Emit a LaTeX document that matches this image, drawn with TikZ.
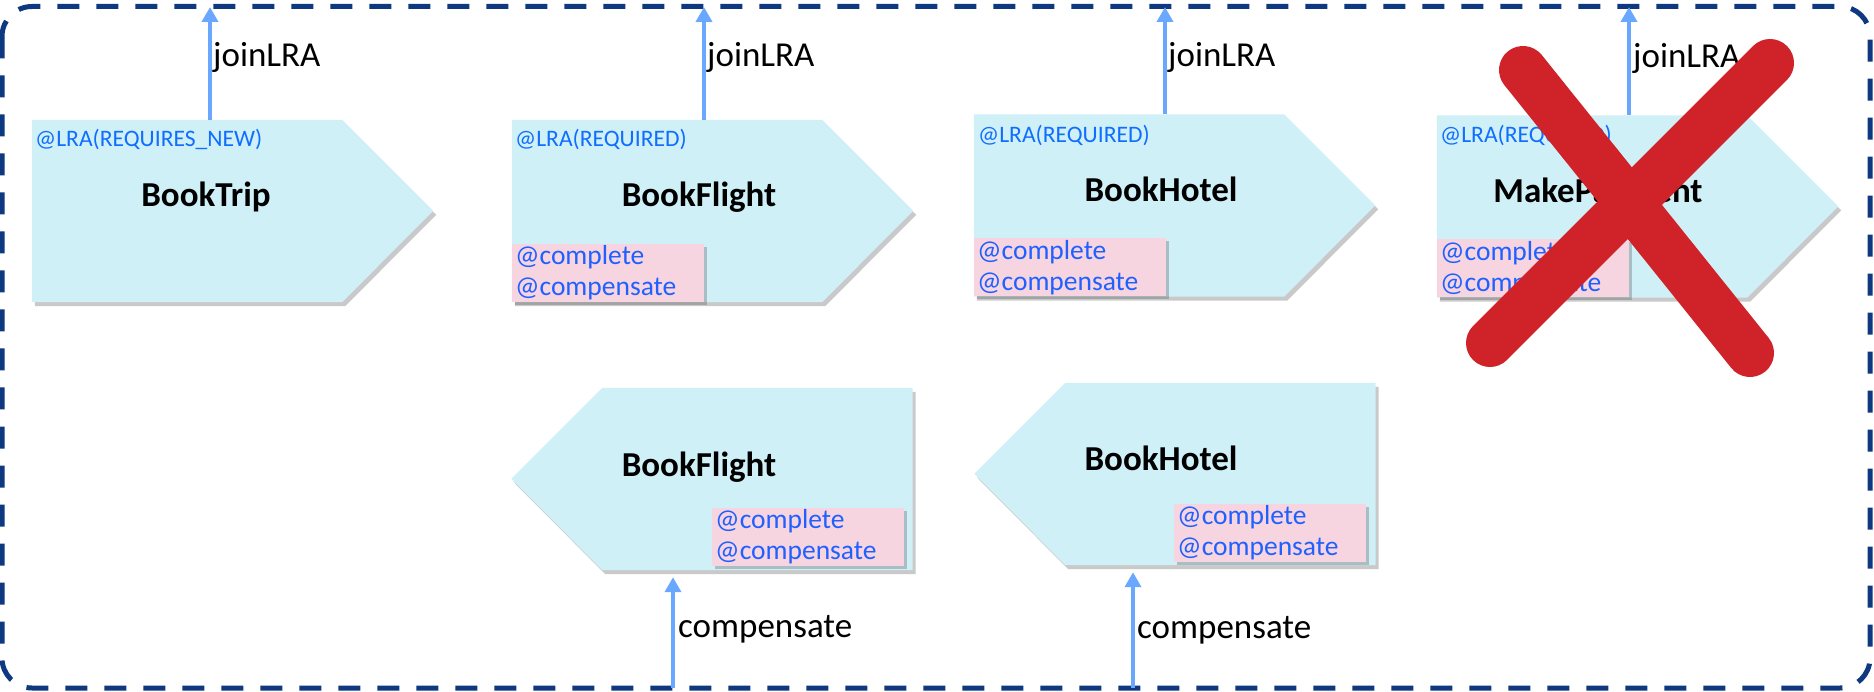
\documentclass[tikz,border=0pt]{standalone}
\usepackage{fontspec}
\setmainfont{Carlito}
\usetikzlibrary{shadows,arrows.meta}

\definecolor{cellcyan}{RGB}{208,240,248}
\definecolor{hookpink}{RGB}{246,213,224}
\definecolor{annblue}{RGB}{16,110,255}
\definecolor{hookblue}{RGB}{32,96,255}
\definecolor{flowblue}{RGB}{106,168,255}
\definecolor{crossred}{RGB}{208,34,41}
\definecolor{framenavy}{RGB}{14,56,128}

\tikzset{
  taskbody/.style={rectangle, minimum width=310pt, minimum height=182pt, inner sep=0pt},
  tasksig/.style={fill=cellcyan,
    drop shadow={shadow xshift=3pt, shadow yshift=-4pt, opacity=.3, fill=black!70}},
  taskname/.style={font=\fontsize{35}{40}\selectfont\bfseries, anchor=base, inner sep=0pt},
  lra/.style={font=\fontsize{23.6}{28}\selectfont, text=annblue, anchor=base west, inner sep=0pt},
  hooks/.style={fill=hookpink, font=\fontsize{27.5}{31}\selectfont, text=hookblue,
    anchor=south west, text width=186pt, align=left, inner xsep=3pt, inner ysep=0pt,
    minimum height=58pt,
    drop shadow={shadow xshift=3pt, shadow yshift=-3pt, opacity=.3, fill=black!70}},
  flow/.style={line width=4.5pt, flowblue, -{Triangle[width=16pt,length=15pt]}},
  flowlabel/.style={font=\fontsize{35}{40}\selectfont, anchor=base west, inner sep=0pt}
}

\begin{document}
\begin{tikzpicture}[x=1pt,y=-1pt]
  \useasboundingbox (0,0) rectangle (1874,692);

  % outer boundary
  \draw[framenavy, line width=5pt, dash pattern=on 22pt off 17pt, rounded corners=30pt]
    (2,6.5) rectangle (1870,688);

  % task bodies
  \node[taskbody] (tripT) at (187,211) {};
  \node[taskbody] (flightT) at (667,211) {};
  \node[taskbody] (hotelT) at (1129,205.5) {};
  \node[taskbody] (payT) at (1592,206.5) {};
  \node[taskbody] (flightC) at (757.5,479) {};
  \node[taskbody] (hotelC) at (1220.5,474) {};

  % top row: forward tasks, pointing right
  \fill[tasksig] (tripT.north west) -- (tripT.north east) -- ++(91,91) -- (tripT.south east) -- (tripT.south west) -- cycle;
  \fill[tasksig] (flightT.north west) -- (flightT.north east) -- ++(91,91) -- (flightT.south east) -- (flightT.south west) -- cycle;
  \fill[tasksig] (hotelT.north west) -- (hotelT.north east) -- ++(91,91) -- (hotelT.south east) -- (hotelT.south west) -- cycle;
  \fill[tasksig] (payT.north west) -- (payT.north east) -- ++(91,91) -- (payT.south east) -- (payT.south west) -- cycle;

  % bottom row: compensating tasks, pointing left
  \fill[tasksig] (flightC.north east) -- (flightC.north west) -- ++(-91,91) -- (flightC.south west) -- (flightC.south east) -- cycle;
  \fill[tasksig] (hotelC.north east) -- (hotelC.north west) -- ++(-91,91) -- (hotelC.south west) -- (hotelC.south east) -- cycle;

  \node[lra] (tripA) at (35,147) {@LRA(REQUIRES\_NEW)};
  \node[lra] (flightA) at (515,147) {@LRA(REQUIRED)};
  \node[lra] (hotelA) at (978,143) {@LRA(REQUIRED)};
  \node[lra] (payA) at (1440,143) {@LRA(REQUIRED)};

  \node[taskname] (tripN) at (206,207) {BookTrip};
  \node[taskname] (flightN) at (699,207) {BookFlight};
  \node[taskname] (hotelN) at (1161,202) {BookHotel};
  \node[taskname] (payN) at (1598,203) {MakePayment};
  \node[taskname] (flightCN) at (699,476) {BookFlight};
  \node[taskname] (hotelCN) at (1161,470) {BookHotel};

  \node[hooks] (flightH) at (flightT.south west) {@complete\\@compensate};
  \node[hooks] (hotelH) at (hotelT.south west) {@complete\\@compensate};
  \node[hooks] (payH) at (payT.south west) {@complete\\@compensate};
  \node[hooks] (flightCH) at (712,566) {@complete\\@compensate};
  \node[hooks] (hotelCH) at (1174,562) {@complete\\@compensate};

  % joinLRA
  \coordinate (jTrip) at (210,7);
  \coordinate (jFlight) at (704,7);
  \coordinate (jHotel) at (1165,7);
  \coordinate (jPay) at (1629,7);
  \draw[flow] (jTrip |- tripT.north) -- (jTrip);
  \draw[flow] (jFlight |- flightT.north) -- (jFlight);
  \draw[flow] (jHotel |- hotelT.north) -- (jHotel);
  \draw[flow] (jPay |- payT.north) -- (jPay);
  \node[flowlabel] (jTripL) at (213,67) {joinLRA};
  \node[flowlabel] (jFlightL) at (707,67) {joinLRA};
  \node[flowlabel] (jHotelL) at (1168,67) {joinLRA};
  \node[flowlabel] (jPayL) at (1633,68) {joinLRA};

  % compensate
  \coordinate (cFlight) at (673,688);
  \coordinate (cHotel) at (1133,688);
  \draw[flow, shorten >=7pt] (cFlight) -- (cFlight |- flightC.south);
  \draw[flow, shorten >=7pt] (cHotel) -- (cHotel |- hotelC.south);
  \node[flowlabel] (cFlightL) at (678,637) {compensate};
  \node[flowlabel] (cHotelL) at (1137,638) {compensate};

  % cancelled
  \draw[crossred, line width=48pt, line cap=round] (1523,70) -- (1750,353);
  \draw[crossred, line width=48pt, line cap=round] (1770,63) -- (1490,343);
\end{tikzpicture}
\end{document}
